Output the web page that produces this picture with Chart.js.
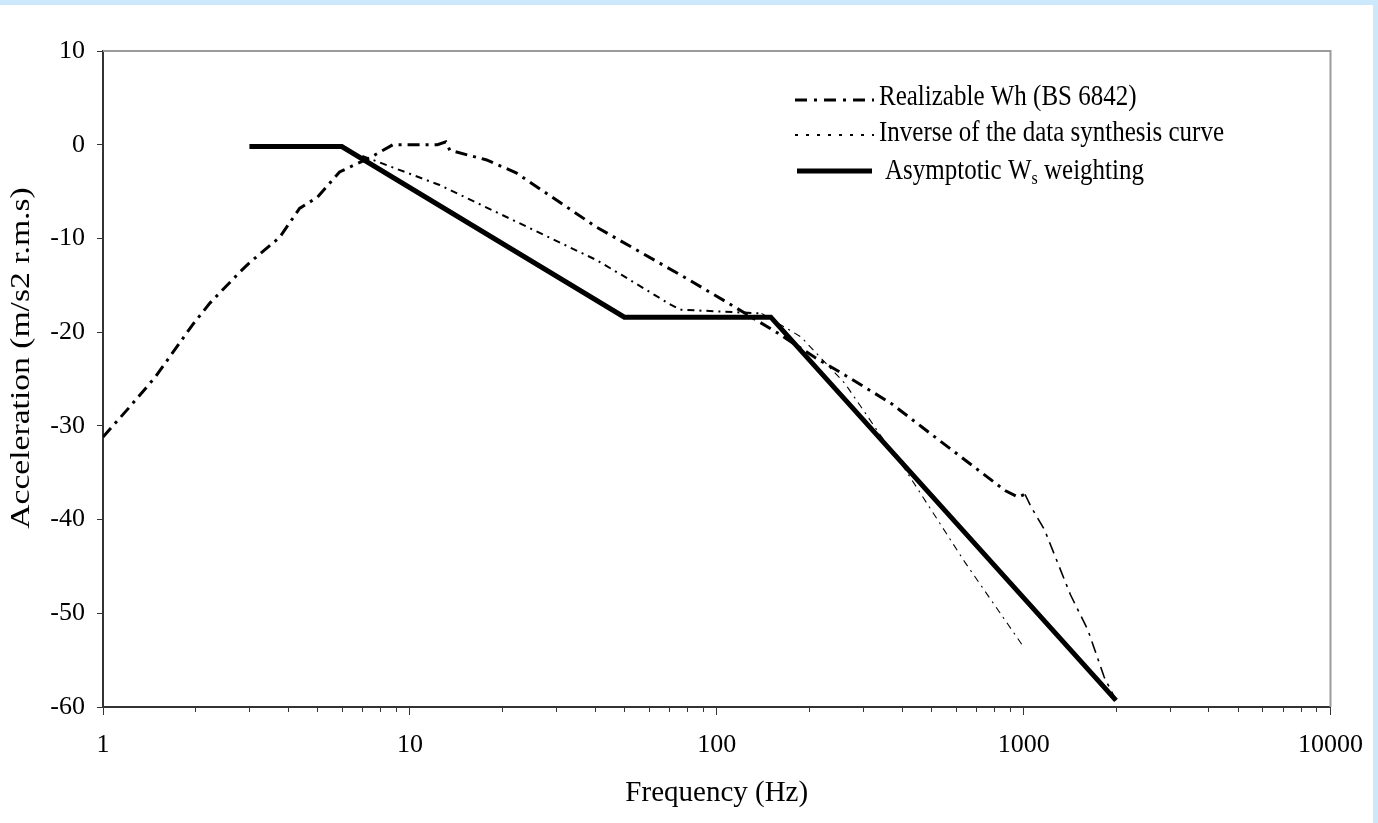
<!DOCTYPE html>
<html>
<head>
<meta charset="utf-8">
<script src="https://cdn.jsdelivr.net/npm/chart.js@4.4.1/dist/chart.umd.min.js"></script>
<style>
  html, body { margin: 0; padding: 0; background: #fff; }
  #wrap { position: relative; width: 1378px; height: 823px; overflow: hidden; background: #fff; }
  #c { position: absolute; left: 0; top: 0; }
  .edge { position: absolute; background: #cce9fc; }
</style>
</head>
<body>
<div id="wrap">
  <canvas id="c" width="1378" height="823"></canvas>
  <div class="edge" style="left:0;top:0;width:1378px;height:5px"></div>
  <div class="edge" style="left:1373px;top:0;width:5px;height:823px"></div>
</div>
<script>
// Realizable Wh weighting (BS 6842), frequency in Hz and level
const whFreq  = [1, 1.22, 1.48, 1.96, 2.23, 2.79, 3.0, 3.76, 4.37, 5.0, 5.9, 7.4, 8.8, 12.3, 13.1, 13.5, 17.7, 22.2, 40.6, 81, 109, 158, 209, 262, 370, 465, 870, 960, 1010, 1060, 1170, 1420, 1620, 1830, 2000];
const whLevel = [-31.2, -28, -24.8, -19.2, -16.9, -13.6, -12.6, -9.9, -6.8, -5.6, -2.9, -1.4, 0, 0, 0.3, -0.6, -1.6, -3.0, -8.8, -14.4, -16.9, -20.1, -22.7, -24.6, -27.6, -30.1, -36.9, -37.6, -37.3, -38.7, -41.1, -48, -51.8, -56.8, -59.3];

// Inverse of the data synthesis curve
const invFreq  = [7, 12.5, 40.5, 49, 71, 76, 140, 188, 262, 355, 410, 645, 890, 1000];
const invLevel = [-1.2, -4.3, -12.3, -13.9, -17.1, -17.6, -18.0, -20.5, -25.5, -31.8, -34.6, -44.6, -51.2, -53.6];

// Asymptotic Ws weighting
const wsFreq  = [3, 6, 50, 150, 2000];
const wsLevel = [-0.2, -0.2, -18.4, -18.4, -59.3];

// Axis ticks
const xTickValues = [1, 10, 100, 1000, 10000];
const yTickValues = [10, 0, -10, -20, -30, -40, -50, -60];

const seriesNames = ['Realizable Wh (BS 6842)', 'Inverse of the data synthesis curve', 'Asymptotic W'];

const SERIF = '"Liberation Serif", "Times New Roman", serif';
const toPoints = (xs, ys) => xs.map((x, i) => ({ x: x, y: ys[i] }));

// Legend sample styles
const legendStyles = [
  { dash: [12, 7, 3, 7], width: 3 },
  { dash: [3, 8], width: 2 },
  { dash: [], width: 5 }
];

const framePlugin = {
  id: 'frame',
  beforeDatasetsDraw(chart) {
    const { ctx, chartArea: a, scales } = chart;
    ctx.save();
    // top and right borders
    ctx.strokeStyle = '#9a9a9a';
    ctx.lineWidth = 2;
    ctx.beginPath();
    ctx.moveTo(a.left, a.top);
    ctx.lineTo(a.right, a.top);
    ctx.lineTo(a.right, a.bottom);
    ctx.stroke();
    // minor logarithmic ticks below the x axis
    ctx.strokeStyle = '#333';
    ctx.lineWidth = 1;
    const xs = scales.x;
    for (let d = 1; d < 10000; d *= 10) {
      for (let m = 2; m <= 9; m++) {
        const px = Math.round(xs.getPixelForValue(d * m)) + 0.5;
        ctx.beginPath();
        ctx.moveTo(px, a.bottom);
        ctx.lineTo(px, a.bottom + 5);
        ctx.stroke();
      }
    }
    ctx.restore();
  },
  afterDraw(chart) {
    const { ctx } = chart;
    ctx.save();
    ctx.fillStyle = '#000';
    // y axis title
    ctx.save();
    ctx.translate(22, 358);
    ctx.rotate(-Math.PI / 2);
    ctx.scale(1.2, 1);
    ctx.font = '28px ' + SERIF;
    ctx.textAlign = 'center';
    ctx.textBaseline = 'middle';
    ctx.fillText('Acceleration (m/s2 r.m.s)', 0, 0);
    ctx.restore();

    // legend
    const rows = [
      { lineY: 100, x0: 795, x1: 874, textX: 879, base: 105 },
      { lineY: 135, x0: 795, x1: 874, textX: 879, base: 141 },
      { lineY: 171, x0: 797, x1: 872, textX: 885, base: 179 }
    ];
    const ds = chart.data.datasets;
    rows.forEach((r, i) => {
      const st = legendStyles[i];
      ctx.save();
      ctx.strokeStyle = ds[i].borderColor;
      ctx.lineWidth = st.width;
      ctx.setLineDash(st.dash);
      ctx.beginPath();
      ctx.moveTo(r.x0, r.lineY);
      ctx.lineTo(r.x1, r.lineY);
      ctx.stroke();
      ctx.restore();

      ctx.save();
      ctx.translate(r.textX, r.base);
      ctx.scale(1, 1.2);
      ctx.font = '25px ' + SERIF;
      ctx.textAlign = 'left';
      ctx.textBaseline = 'alphabetic';
      ctx.fillText(ds[i].label, 0, 0);
      if (i === 2) {
        let w = ctx.measureText(ds[i].label).width;
        ctx.font = '16px ' + SERIF;
        ctx.fillText('s', w, 4);
        w += ctx.measureText('s').width;
        ctx.font = '25px ' + SERIF;
        ctx.fillText(' weighting', w, 0);
      }
      ctx.restore();
    });
    ctx.restore();
  }
};

new Chart(document.getElementById('c'), {
  type: 'line',
  data: {
    datasets: [
      {
        label: seriesNames[0],
        data: toPoints(whFreq, whLevel),
        borderColor: '#000',
        borderWidth: 3,
        borderDash: [12, 6, 3, 6],
        pointRadius: 0,
        fill: false,
        tension: 0,
        segment: {
          borderWidth: c => (c.p0.parsed.x >= 1000 ? 1.6 : 3)
        }
      },
      {
        label: seriesNames[1],
        data: toPoints(invFreq, invLevel),
        borderColor: '#000',
        borderWidth: 2,
        borderDash: [7, 5, 2, 5],
        pointRadius: 0,
        fill: false,
        tension: 0,
        segment: {
          borderWidth: c => (c.p0.parsed.x >= 140 ? 1.1 : 2)
        }
      },
      {
        label: seriesNames[2],
        data: toPoints(wsFreq, wsLevel),
        borderColor: '#000',
        borderWidth: 5,
        pointRadius: 0,
        fill: false,
        tension: 0
      }
    ]
  },
  options: {
    responsive: false,
    animation: false,
    devicePixelRatio: 1,
    layout: { padding: { left: 0, right: 44, top: 51, bottom: 0 } },
    plugins: {
      legend: { display: false },
      tooltip: { enabled: false }
    },
    scales: {
      x: {
        type: 'logarithmic',
        min: 1,
        max: 10000,
        afterBuildTicks: s => { s.ticks = xTickValues.map(v => ({ value: v, major: true })); },
        afterFit: s => { s.height = 116; },
        border: { color: '#333', width: 2 },
        grid: { drawOnChartArea: false, drawTicks: true, tickLength: 8, tickColor: '#333', tickWidth: 1 },
        ticks: {
          autoSkip: false,
          maxRotation: 0,
          padding: 15,
          color: '#000',
          font: { family: SERIF, size: 26 },
          callback: v => String(v)
        },
        title: {
          display: true,
          text: 'Frequency (Hz)',
          color: '#000',
          font: { family: SERIF, size: 29 },
          padding: { top: 0, bottom: 12 }
        }
      },
      y: {
        type: 'linear',
        min: -60,
        max: 10,
        afterBuildTicks: s => { s.ticks = yTickValues.map(v => ({ value: v })); },
        afterFit: s => { s.width = 103; },
        border: { color: '#333', width: 2 },
        grid: { drawOnChartArea: false, drawTicks: true, tickLength: 6, tickColor: '#333', tickWidth: 1 },
        ticks: {
          padding: 12,
          color: '#000',
          font: { family: SERIF, size: 26 },
          callback: v => String(v)
        }
      }
    }
  },
  plugins: [framePlugin]
});
</script>
</body>
</html>
